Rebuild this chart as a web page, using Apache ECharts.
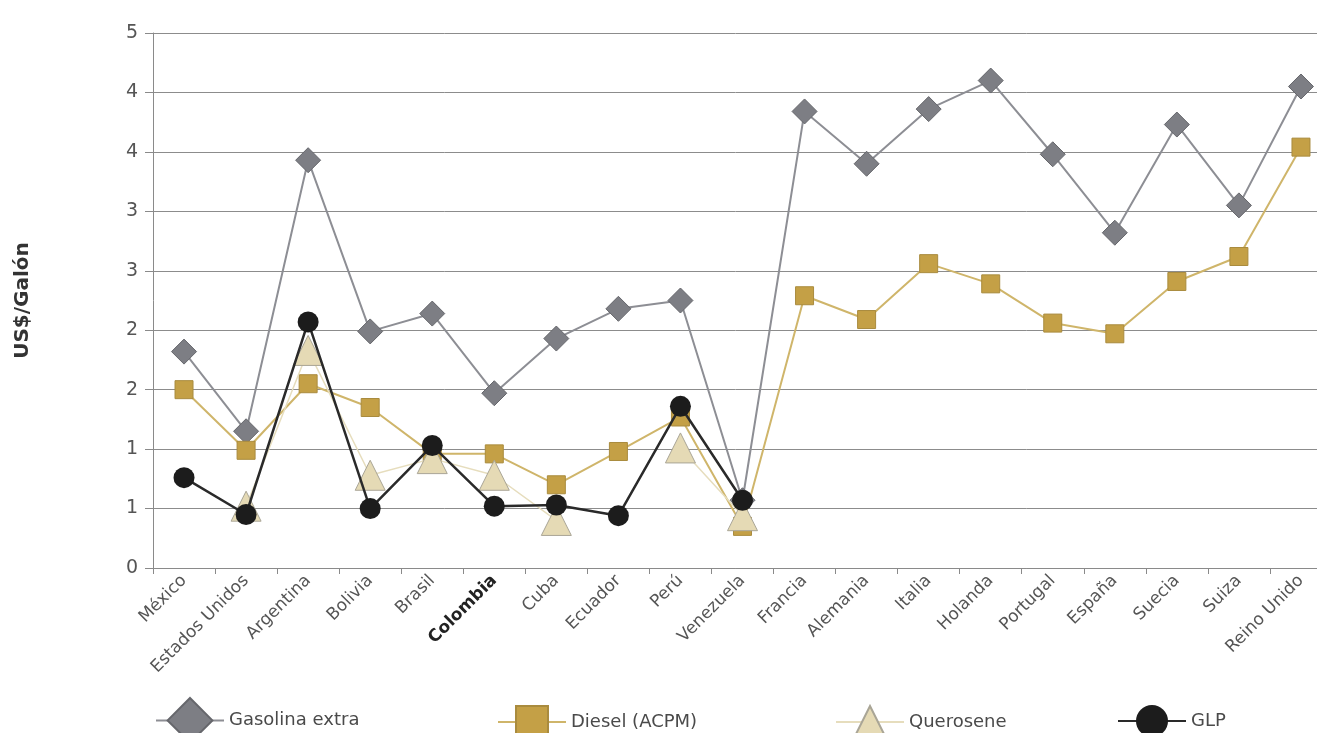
<!DOCTYPE html>
<html>
<head>
<meta charset="utf-8">
<script src="https://cdn.jsdelivr.net/npm/echarts@6/dist/echarts.min.js"></script>
<style>
html,body{margin:0;padding:0;background:#fff;}
#chart{width:1317px;height:733px;}
</style>
</head>
<body>
<div id="chart"></div>
<script>
const categories = ['México','Estados Unidos','Argentina','Bolivia','Brasil','Colombia','Cuba','Ecuador','Perú','Venezuela','Francia','Alemania','Italia','Holanda','Portugal','España','Suecia','Suiza','Reino Unido'];
const gasolinaExtra = [1.82,1.15,3.43,1.99,2.14,1.47,1.93,2.18,2.25,0.57,3.84,3.40,3.86,4.10,3.48,2.82,3.73,3.05,4.05];
const dieselACPM    = [1.50,0.99,1.55,1.35,0.96,0.96,0.70,0.98,1.27,0.35,2.29,2.09,2.56,2.39,2.06,1.97,2.41,2.62,3.54];
const querosene     = [null,0.52,1.83,0.78,0.92,0.78,0.40,null,1.01,0.44,null,null,null,null,null,null,null,null,null];
const glp           = [0.76,0.45,2.07,0.50,1.03,0.52,0.53,0.44,1.36,0.57,null,null,null,null,null,null,null,null,null];
const yTickLabels = ['0','1','1','2','2','3','3','4','4','5'];
const seriesNames = ['Gasolina extra','Diesel (ACPM)','Querosene','GLP'];

const FONT = 'DejaVu Sans';
const chart = echarts.init(document.getElementById('chart'), null, {renderer:'canvas'});

const legendLefts = [155, 497, 835, 1117];
const legendHeights = [56, 40, 40, 40];
const legendCenterY = 725;
const legends = seriesNames.map((n,i)=>({
  data:[n], left:legendLefts[i], top:legendCenterY - legendHeights[i]/2, orient:'horizontal',
  itemWidth:68, itemHeight:legendHeights[i], selectedMode:false, padding:0,
  textStyle:{fontFamily:FONT, fontSize:18, color:'#4a4a4a'}
}));

chart.setOption({
  animation:false,
  backgroundColor:'#fff',
  grid:{left:153, right:-15, top:33, bottom:165, containLabel:false, outerBoundsMode:'none'},
  legend: legends,
  xAxis:{
    type:'category', data:categories, boundaryGap:true,
    axisLine:{show:true, lineStyle:{color:'#8a8a8a', width:1}},
    axisTick:{show:true, length:6, alignWithLabel:false, lineStyle:{color:'#8a8a8a'}},
    axisLabel:{
      rotate:45, margin:10, interval:0,
      fontFamily:FONT, fontSize:17, color:'#555',
      formatter: v => v === 'Colombia' ? '{b|' + v + '}' : v,
      rich:{b:{fontFamily:FONT, fontSize:17, fontWeight:'bold', color:'#222'}}
    },
    splitLine:{show:false}
  },
  yAxis:{
    type:'value', min:0, max:4.5, interval:0.5,
    name:'US$/Galón', nameLocation:'middle', nameGap:120, nameRotate:90,
    nameTextStyle:{fontFamily:FONT, fontSize:20, fontWeight:'bold', color:'#333'},
    axisLine:{show:true, lineStyle:{color:'#8a8a8a', width:1}},
    axisTick:{show:true, length:8, lineStyle:{color:'#8a8a8a'}},
    axisLabel:{
      margin:15, fontFamily:FONT, fontSize:19, color:'#555',
      formatter: v => yTickLabels[Math.round(v/0.5)]
    },
    splitLine:{show:true, lineStyle:{color:'#8c8c8c', width:1}}
  },
  series:[
    {name:seriesNames[0], type:'line', data:gasolinaExtra, symbol:'diamond', symbolSize:25,
     itemStyle:{color:'#7d7e84', borderColor:'#66676c', borderWidth:1},
     lineStyle:{color:'#8d8e94', width:2}, emphasis:{disabled:true}, z:2},
    {name:seriesNames[1], type:'line', data:dieselACPM, symbol:'rect', symbolSize:18,
     itemStyle:{color:'#c4a046', borderColor:'#a98b3e', borderWidth:1},
     lineStyle:{color:'#cfb56a', width:2}, emphasis:{disabled:true}, z:3},
    {name:seriesNames[2], type:'line', data:querosene, symbol:'triangle', symbolSize:30, connectNulls:false,
     itemStyle:{color:'#e5dab5', borderColor:'#a9a596', borderWidth:1},
     lineStyle:{color:'#e6ddbd', width:1.5}, emphasis:{disabled:true}, z:4},
    {name:seriesNames[3], type:'line', data:glp, symbol:'circle', symbolSize:21, connectNulls:false,
     itemStyle:{color:'#1c1c1c'},
     lineStyle:{color:'#2a2a2a', width:2.5}, emphasis:{disabled:true}, z:5}
  ]
});
</script>
</body>
</html>
